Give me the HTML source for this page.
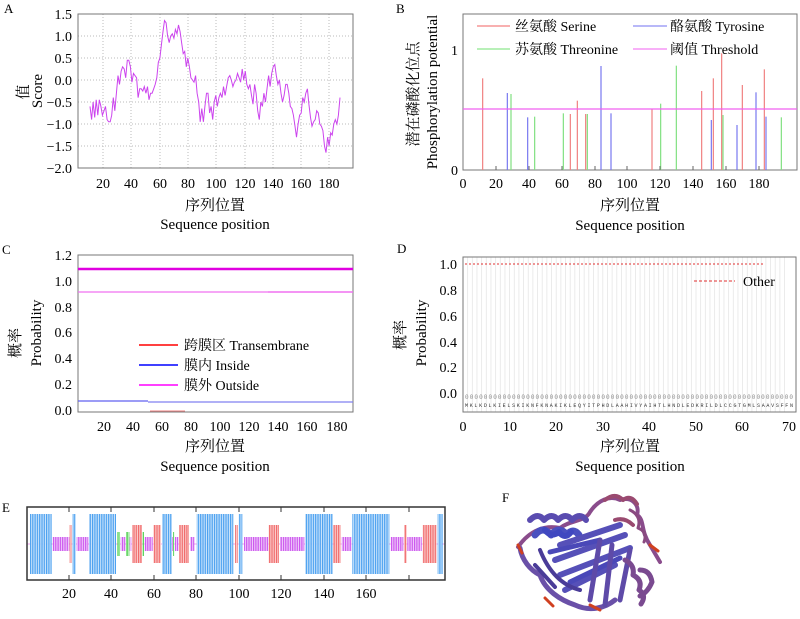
<!DOCTYPE html>
<html><head><meta charset="utf-8">
<style>
html,body{margin:0;padding:0;background:#fff;}
svg{display:block;font-family:"Liberation Serif","Noto Serif CJK SC",serif;}
</style></head>
<body>
<svg id="s" width="800" height="619" viewBox="0 0 800 619" xmlns="http://www.w3.org/2000/svg">
<rect width="800" height="619" fill="#fff"/>
<g font-size="13" fill="#000">
<text x="4" y="13">A</text><text x="396" y="13">B</text>
<text x="2" y="254">C</text><text x="397" y="253">D</text>
<text x="2" y="512">E</text><text x="502" y="502">F</text>
</g>

<!-- Panel A -->
<g id="gA"></g>
<rect x="78" y="14" width="275" height="154" fill="none" stroke="#777" stroke-width="1"/>
<g font-size="14" text-anchor="end">
<text x="72" y="19">1.5</text><text x="72" y="41">1.0</text><text x="72" y="63">0.5</text><text x="72" y="85">0.0</text>
<text x="72" y="107">−0.5</text><text x="72" y="129">−1.0</text><text x="72" y="151">−1.5</text><text x="72" y="173">−2.0</text>
</g>
<g font-size="14" text-anchor="middle">
<text x="103" y="188">20</text><text x="131" y="188">40</text><text x="160" y="188">60</text><text x="188" y="188">80</text>
<text x="216" y="188">100</text><text x="245" y="188">120</text><text x="273" y="188">140</text><text x="301" y="188">160</text><text x="329" y="188">180</text>
<text x="215" y="210" font-size="15">序列位置</text>
<text x="215" y="229" font-size="15">Sequence position</text>
</g>
<text transform="translate(28,92) rotate(-90)" font-size="15" text-anchor="middle">值</text>
<text transform="translate(42,91) rotate(-90)" font-size="15" text-anchor="middle">Score</text>

<!-- Panel B -->
<rect x="463" y="14" width="334" height="156" fill="none" stroke="#777"/>
<g id="gB"></g>
<line x1="463" y1="109" x2="797" y2="109" stroke="#f060f0" stroke-width="1.2"/>
<line x1="477" y1="26" x2="510" y2="26" stroke="#f06060"/><text x="515" y="31" font-size="14">丝氨酸 Serine</text>
<line x1="633" y1="26" x2="667" y2="26" stroke="#7070f0"/><text x="670" y="31" font-size="14">酪氨酸 Tyrosine</text>
<line x1="477" y1="49" x2="510" y2="49" stroke="#70e070"/><text x="515" y="54" font-size="14">苏氨酸 Threonine</text>
<line x1="633" y1="49" x2="667" y2="49" stroke="#f060f0"/><text x="670" y="54" font-size="14">阈值 Threshold</text>
<g font-size="14" text-anchor="end"><text x="458" y="55">1</text><text x="458" y="175">0</text></g>
<g font-size="14" text-anchor="middle">
<text x="463" y="188">0</text><text x="496" y="188">20</text><text x="529" y="188">40</text><text x="562" y="188">60</text><text x="595" y="188">80</text>
<text x="627" y="188">100</text><text x="660" y="188">120</text><text x="693" y="188">140</text><text x="726" y="188">160</text><text x="759" y="188">180</text>
<text x="630" y="210" font-size="15">序列位置</text>
<text x="630" y="230" font-size="15">Sequence position</text>
</g>
<text transform="translate(418,94) rotate(-90)" font-size="15" text-anchor="middle">潜在磷酸化位点</text>
<text transform="translate(437,92) rotate(-90)" font-size="15" text-anchor="middle">Phosphorylation potential</text>

<!-- Panel C -->
<rect x="78" y="255" width="275" height="157" fill="none" stroke="#777"/>
<line x1="78" y1="269" x2="353" y2="269" stroke="#e000e0" stroke-width="2.5"/>
<line x1="78" y1="292" x2="268" y2="292" stroke="#f070f0" stroke-width="1.2"/>
<line x1="268" y1="292" x2="353" y2="292" stroke="#f070f0" stroke-width="1.6"/>
<line x1="78" y1="401" x2="148" y2="401" stroke="#6060f0" stroke-width="1.2"/>
<line x1="148" y1="402" x2="353" y2="402" stroke="#8080f0" stroke-width="1.2"/>
<line x1="150" y1="411" x2="185" y2="411" stroke="#f08080" stroke-width="1"/>
<line x1="139" y1="345" x2="178" y2="345" stroke="#f00" stroke-width="1.5"/><text x="184" y="350" font-size="14">跨膜区 Transembrane</text>
<line x1="139" y1="365" x2="178" y2="365" stroke="#00f" stroke-width="1.5"/><text x="184" y="370" font-size="14">膜内 Inside</text>
<line x1="139" y1="385" x2="178" y2="385" stroke="#f0f" stroke-width="1.5"/><text x="184" y="390" font-size="14">膜外 Outside</text>
<g font-size="14" text-anchor="end">
<text x="72" y="260">1.2</text><text x="72" y="286">1.0</text><text x="72" y="312">0.8</text><text x="72" y="337">0.6</text>
<text x="72" y="363">0.4</text><text x="72" y="389">0.2</text><text x="72" y="415">0.0</text>
</g>
<g font-size="14" text-anchor="middle">
<text x="104" y="431">20</text><text x="133" y="431">40</text><text x="162" y="431">60</text><text x="191" y="431">80</text>
<text x="220" y="431">100</text><text x="249" y="431">120</text><text x="278" y="431">140</text><text x="307" y="431">160</text><text x="337" y="431">180</text>
<text x="215" y="451" font-size="15">序列位置</text>
<text x="215" y="471" font-size="15">Sequence position</text>
</g>
<text transform="translate(20,343) rotate(-90)" font-size="15" text-anchor="middle">概率</text>
<text transform="translate(41,333) rotate(-90)" font-size="15" text-anchor="middle">Probability</text>

<!-- Panel D -->
<g id="gD"></g>
<rect x="463" y="257" width="333" height="155" fill="none" stroke="#777"/>
<line x1="465" y1="264" x2="765" y2="264" stroke="#e03030" stroke-dasharray="2,2"/>
<line x1="694" y1="281" x2="735" y2="281" stroke="#e03030" stroke-dasharray="3,2"/>
<text x="743" y="286" font-size="14">Other</text>
<text x="465" y="399" font-size="6" fill="#888" font-family="Liberation Mono" textLength="328" lengthAdjust="spacing">0000000000000000000000000000000000000000000000000000000000000000000000</text>
<text x="465" y="407" font-size="5" fill="#333" font-family="Liberation Mono" textLength="328" lengthAdjust="spacing">MKLKDLKIELSKIKNFKNAKIKLEQYITPHDLAAHIVYAIHTLHNDLEDKRILDLCCGTGMLSAAVSFFN</text>
<g font-size="14" text-anchor="end">
<text x="457" y="269">1.0</text><text x="457" y="295">0.8</text><text x="457" y="321">0.6</text><text x="457" y="347">0.4</text>
<text x="457" y="372">0.2</text><text x="457" y="398">0.0</text>
</g>
<g font-size="14" text-anchor="middle">
<text x="463" y="431">0</text><text x="510" y="431">10</text><text x="556" y="431">20</text><text x="603" y="431">30</text>
<text x="649" y="431">40</text><text x="696" y="431">50</text><text x="742" y="431">60</text><text x="789" y="431">70</text>
<text x="630" y="451" font-size="15">序列位置</text>
<text x="630" y="471" font-size="15">Sequence position</text>
</g>
<text transform="translate(405,335) rotate(-90)" font-size="15" text-anchor="middle">概率</text>
<text transform="translate(426,333) rotate(-90)" font-size="15" text-anchor="middle">Probability</text>

<!-- Panel E -->
<defs>
<pattern id="pb" width="2.3" height="10" patternUnits="userSpaceOnUse"><rect width="1.3" height="10" fill="#4aa0f0"/><rect x="1.3" width="1" height="10" fill="#cfe6fb"/></pattern>
<pattern id="pr" width="2.3" height="10" patternUnits="userSpaceOnUse"><rect width="1.3" height="10" fill="#f06a6a"/><rect x="1.3" width="1" height="10" fill="#fbcfcf"/></pattern>
<pattern id="pm" width="2.3" height="10" patternUnits="userSpaceOnUse"><rect width="1.3" height="10" fill="#cc55ee"/><rect x="1.3" width="1" height="10" fill="#f0d0fa"/></pattern>
<pattern id="pg" width="2.3" height="10" patternUnits="userSpaceOnUse"><rect width="1.3" height="10" fill="#44cc44"/><rect x="1.3" width="1" height="10" fill="#d0f4d0"/></pattern>
</defs>
<line x1="27" y1="544" x2="445" y2="544" stroke="#f0a0f0"/>
<g id="gE"></g>
<rect x="27" y="507" width="418" height="73" fill="none" stroke="#333" stroke-width="1.5"/>
<g font-size="14" text-anchor="middle">
<text x="69" y="598">20</text><text x="111" y="598">40</text><text x="154" y="598">60</text><text x="196" y="598">80</text>
<text x="239" y="598">100</text><text x="281" y="598">120</text><text x="324" y="598">140</text><text x="366" y="598">160</text>
</g>

<!-- Panel F protein -->
<g fill="none" stroke-linecap="round" stroke-linejoin="round">
<path d="M518,547 C530,530 545,525 560,528 C570,520 585,522 590,512 C598,500 610,495 620,500 C632,496 640,505 637,515 C645,520 640,530 650,545 L660,562" stroke="#8a4c8c" stroke-width="4"/>
<path d="M520,548 C522,560 530,570 540,575 C545,590 560,600 575,605 C590,612 605,608 615,600" stroke="#6a50a8" stroke-width="5"/>
<path d="M530,520 q8,-8 14,0 q8,-8 14,0 q8,-8 14,0 q8,-8 14,0" stroke="#5a4cb0" stroke-width="6"/>
<path d="M535,535 q8,-10 16,0 q8,-10 16,0 q6,-8 12,0" stroke="#4a50c0" stroke-width="7"/>
<path d="M545,530 q6,8 14,2 q6,8 12,0" stroke="#4048c0" stroke-width="6"/>
<path d="M560,545 L620,525 M555,560 L625,535 M560,575 L630,548 M565,590 L615,565" stroke="#5650b8" stroke-width="6"/>
<path d="M550,552 L600,540 M570,582 L620,558" stroke="#4a48b8" stroke-width="5"/>
<path d="M590,600 L600,540 M605,605 L612,545 M620,600 L630,550" stroke="#5e4aa8" stroke-width="5"/>
<path d="M625,560 q10,5 8,15 q10,5 6,15 q8,5 2,14 M640,570 q10,0 12,12 q-4,10 -12,14" stroke="#7a4a90" stroke-width="5"/>
<path d="M605,500 q10,-8 18,0 q8,-6 14,4 M615,520 q10,-3 18,5" stroke="#9a4a70" stroke-width="4"/>
<path d="M630,510 q12,6 8,18 q10,4 6,14" stroke="#8a4a80" stroke-width="3"/>
<path d="M518,545 l4,8 M650,545 l8,6 M590,605 l10,5 M545,598 l8,8" stroke="#d04020" stroke-width="3"/>
<path d="M540,550 C548,570 560,585 580,590 M535,565 l20,22" stroke="#4a3c98" stroke-width="4"/>
</g>
</svg>
<script>
var NS="http://www.w3.org/2000/svg";
function el(p,t,a){var e=document.createElementNS(NS,t);for(var k in a)e.setAttribute(k,a[k]);p.appendChild(e);return e;}
var gA=document.getElementById("gA");
[103,131,160,188,216,245,273,301,329].forEach(function(x){el(gA,"line",{x1:x,y1:14,x2:x,y2:168,stroke:"#bbb","stroke-dasharray":"1,2"});});
[36,58,80,102,124,146].forEach(function(y){el(gA,"line",{x1:78,y1:y,x2:353,y2:y,stroke:"#bbb","stroke-dasharray":"1,2"});});
var v=[-0.6,-0.9,-0.5,-0.85,-0.45,-0.8,-0.45,-0.6,-0.8,-0.7,-0.6,-0.9,-0.95,-0.95,-0.8,-0.4,-0.7,-0.3,0.1,-0.1,0.2,0.3,0.25,0.05,0.45,0.45,0.3,-0.05,0.15,0.1,0.05,-0.4,-0.2,-0.2,-0.25,-0.15,-0.3,-0.15,-0.45,-0.3,-0.3,-0.2,-0.1,0.05,0.4,0.5,0.8,1.1,1.35,1.3,1.0,0.85,1.0,1.05,0.95,1.15,1.05,1.25,1.1,0.85,0.6,0.65,0.3,0.5,0.3,0.05,0.0,-0.05,0.1,-0.3,-0.5,-0.95,-0.65,-0.95,-0.6,-0.3,-0.3,-0.75,-0.6,-0.9,-0.5,-0.35,-0.6,-0.4,-0.3,-0.4,-0.15,-0.35,-0.15,0.05,0.1,0.0,-0.15,-0.05,0.0,0.15,0.05,-0.05,0.25,0.0,0.2,-0.1,-0.2,-0.1,-0.35,-0.55,-0.1,-0.3,-0.7,-0.9,-0.5,-0.6,-0.3,-0.5,-0.2,0.1,-0.15,0.15,0.3,0.35,0.1,-0.1,0.0,-0.3,-0.5,-0.35,-0.1,-0.1,-0.3,-0.6,-0.65,-0.8,-1.05,-1.3,-1.0,-0.8,-0.75,-0.4,-0.5,-0.3,-0.2,-0.55,-0.85,-1.05,-0.95,-0.9,-0.7,-0.75,-1.0,-1.05,-1.15,-1.5,-1.65,-1.3,-1.5,-1.2,-1.25,-1.0,-0.9,-1.0,-0.8,-0.4];
var pts=v.map(function(y,i){return (90+i*250/(v.length-1)).toFixed(1)+","+(14+(1.5-y)*44).toFixed(1);}).join(" ");
el(gA,"polyline",{points:pts,fill:"none",stroke:"#cc44ee","stroke-width":1});
var gB=document.getElementById("gB");
function bars(xs,ts,c){xs.forEach(function(x,i){el(gB,"line",{x1:400+x/3,y1:170,x2:400+x/3,y2:ts[i]/3,stroke:c,"stroke-width":1.2});});}
bars([248,511,532,557,756,905,940,965,1027,1093],[235,342,302,342,326,273,235,160,255,208],"#f08080");
bars([322,383,603,633,934,1011,1068,1098],[279,352,198,340,360,375,277,350],"#7878f0");
bars([333,404,490,562,782,829,969,1144],[282,350,340,342,311,197,345,352],"#80e080");
[496,529,562,595,627,660,693,726,759].forEach(function(x){el(gB,"line",{x1:x,y1:170,x2:x,y2:166,stroke:"#666"});});
var gD=document.getElementById("gD");
for(var i=1;i<70;i++){var x=463+i*4.66;el(gD,"line",{x1:x,y1:257,x2:x,y2:412,stroke:"#e6e6e6","stroke-width":0.8});}
var gE=document.getElementById("gE");
var T={b:["url(#pb)",514,574],r:["url(#pr)",525,563],m:["url(#pm)",537,551],g:["url(#pg)",532,556]};
var seg=[["b",90,155],["m",158,208],["r",209,215],["b",217,228],["m",230,265],["b",267,348],["g",352,360],["m",362,376],["g",378,388],["m",389,394],["r",396,426],["g",428,432],["m",434,458],["r",460,483],["b",486,515],["m",516,519],["g",519,523],["m",525,535],["r",537,567],["m",570,583],["b",590,700],["r",705,713],["b",716,727],["m",732,805],["r",806,837],["m",840,913],["b",915,998],["r",1000,1022],["m",1025,1055],["b",1057,1168],["m",1172,1210],["r",1212,1220],["m",1222,1265],["r",1268,1310],["b",1313,1328]];
seg.forEach(function(s){var t=T[s[0]];el(gE,"rect",{x:s[1]/3,y:t[1],width:(s[2]-s[1])/3,height:t[2]-t[1],fill:t[0]});});
[69,111,154,196,239,281,324,366,409].forEach(function(x){el(gE,"line",{x1:x,y1:507,x2:x,y2:512,stroke:"#333"});el(gE,"line",{x1:x,y1:580,x2:x,y2:575,stroke:"#333"});});
</script>
</body></html>
